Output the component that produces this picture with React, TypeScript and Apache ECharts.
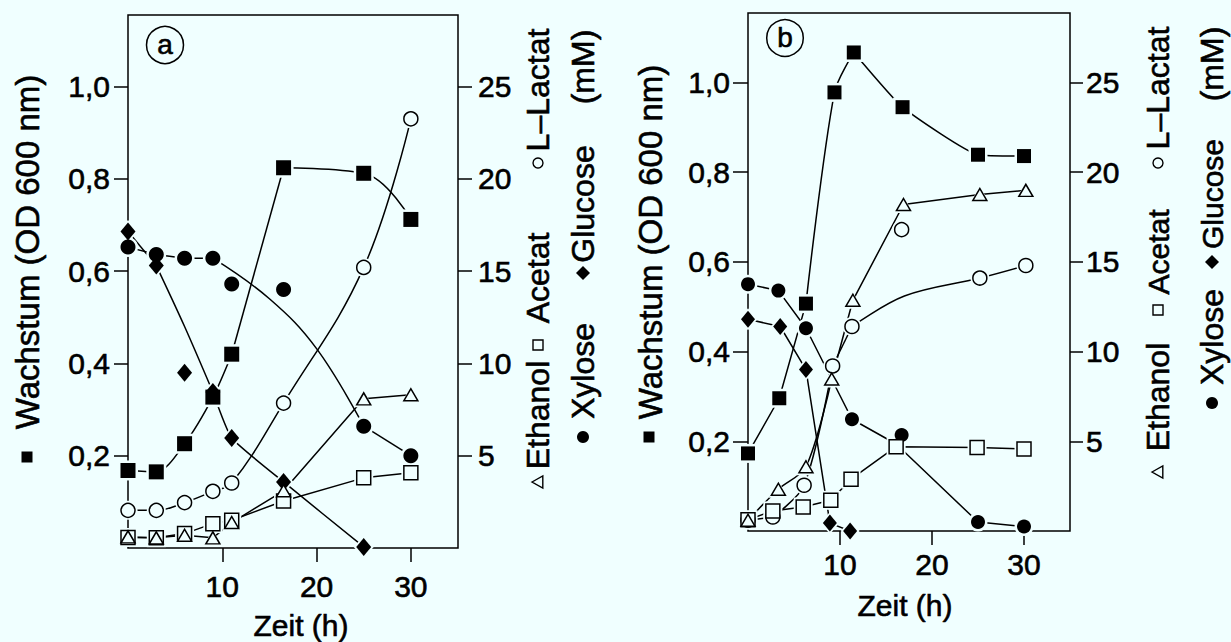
import React, { useEffect, useRef } from 'react';
import * as echarts from 'echarts';

const BG = '#F0FFFF';
const INK = '#000000';
const FONT = '"Liberation Sans", Arial, Helvetica, sans-serif';
const EMBOLDEN = 0.6;

// ---------- axis ticks ----------
const timeTicks = [10, 20, 30];
const odTicks = [0.2, 0.4, 0.6, 0.8, 1.0];
const mMTicks = [5, 10, 15, 20, 25];
const OD_MAX = 1.155;
const MM_PER_OD = 25;
const TIME_MAX = 35;

// ---------- panel a (markers) ----------
const timeA = [0, 3, 6, 9, 11, 16.5, 25, 30];
const growthA = [0.168, 0.165, 0.226, 0.327, 0.42, 0.824, 0.812, 0.712];
const xyloseA = [16.3, 15.9, 15.7, 15.7, 14.3, 14.0, 6.6, 5.0];
const glucoseTimeA = [0, 3, 6, 9, 11, 16.5, 25];
const glucoseA = [17.15, 15.3, 9.5, 8.45, 5.96, 3.58, 0.06];
const lactateA = [2.04, 2.04, 2.46, 3.07, 3.52, 7.85, 15.2, 23.25];
const acetateA = [0.57, 0.56, 0.78, 1.32, 1.5, 2.55, 3.8, 4.08];
const ethanolA = [0.6, 0.55, 0.69, 0.55, 1.38, 3.1, 8.08, 8.3];

// panel a: drawn fit curves
const xyloseCurveTimeA = [0, 3, 6, 9, 15, 20, 25, 30];
const xyloseCurveA = [16.3, 15.9, 15.7, 15.7, 13.5, 10.8, 6.6, 5.0];
const glucoseCurveTimeA = [0, 3, 6, 9, 11, 16.5, 25];
const glucoseCurveA = [17.15, 15.3, 12.0, 8.45, 5.96, 3.58, 0.06];

// ---------- panel b (markers) ----------
const growthTimeB = [0, 3.4, 6.3, 9.4, 11.5, 16.8, 25, 30];
const growthB = [0.173, 0.296, 0.507, 0.978, 1.067, 0.945, 0.839, 0.836];
const xyloseTimeB = [0, 3.3, 6.3, 11.3, 16.7, 25, 30];
const xyloseB = [13.76, 13.4, 11.3, 6.23, 5.35, 0.5, 0.25];
const glucoseTimeB = [0, 3.5, 6.3, 8.9, 11.1];
const glucoseB = [11.8, 11.4, 9.0, 0.44, 0];
const lactateTimeB = [0, 2.7, 6.1, 9.2, 11.3, 16.7, 25.2, 30.2];
const lactateB = [0.6, 0.78, 2.55, 9.2, 11.4, 16.8, 14.1, 14.8];
const acetateTimeB = [0, 2.7, 6.0, 9.0, 11.2, 16.1, 24.9, 30];
const acetateB = [0.63, 1.12, 1.34, 1.71, 2.89, 4.7, 4.65, 4.57];
const ethanolTimeB = [0, 3.3, 6.3, 9.1, 11.4, 16.9, 25.2, 30.2];
const ethanolB = [0.6, 2.33, 3.58, 8.47, 12.86, 18.2, 18.76, 18.99];

// panel b: drawn curves
const xyloseCurveTimeB = [0, 3.3, 6.3, 11.3, 16.1, 25, 30];
const xyloseCurveB = [13.76, 13.4, 11.3, 6.23, 4.85, 0.5, 0.25];
const lactateCurveTimeB = [0, 2.7, 6.1, 9.2, 11.3, 17, 25.2, 30.2];
const lactateCurveB = [0.6, 0.78, 2.55, 9.2, 11.4, 13.1, 14.1, 14.8];

type Seg = [number, number, number | boolean];
type Spec = {
  xs: number[];
  ys: number[];
  lineXs?: number[];
  lineYs?: number[];
  symbol: string;
  size: number | number[];
  filled: boolean;
  smooth: number | boolean;
  segs?: Seg[]; // [startIndex, endIndex, smooth] pieces of the drawn line (corners between)
};

const pairs = (xs: number[], ys: number[]) => xs.map((x, i) => [x, ys[i]]);

function makeSeries(panel: number, yIdx: number, s: Spec) {
  const xAxisIndex = panel;
  const yAxisIndex = panel * 2 + yIdx;
  const pts = pairs(s.xs, s.ys);
  const line = pairs(s.lineXs ?? s.xs, s.lineYs ?? s.ys);
  const segs: Seg[] = s.segs ?? [[0, line.length - 1, s.smooth]];
  const halo = Array.isArray(s.size) ? s.size.map((v) => v + 5) : s.size + 5;
  const lines = segs.map(([a, b, sm]) => ({
    type: 'line', xAxisIndex, yAxisIndex, data: line.slice(a, b + 1), smooth: sm,
    showSymbol: false, symbol: 'none', lineStyle: { color: INK, width: 1.5, opacity: 1 },
    z: 2, silent: true, clip: false,
  }));
  return [
    ...lines,
    {
      type: 'scatter', xAxisIndex, yAxisIndex, data: pts, symbol: s.symbol,
      symbolSize: halo, itemStyle: { color: BG, opacity: 1 }, z: 3, silent: true, clip: false,
    },
    {
      type: 'scatter', xAxisIndex, yAxisIndex, data: pts, symbol: s.symbol,
      symbolSize: s.size,
      itemStyle: s.filled
        ? { color: INK, opacity: 1 }
        : { color: BG, borderColor: INK, borderWidth: 1.5, opacity: 1 },
      z: 4, silent: true, clip: false,
    },
  ];
}

const labelStyle = {
  fontSize: 30, color: INK, fontFamily: FONT,
  textBorderColor: INK, textBorderWidth: EMBOLDEN,
};

function xAxisCfg(gridIndex: number, margin: number) {
  return {
    type: 'value', gridIndex, min: 0, max: TIME_MAX,
    axisLine: { show: false },
    axisTick: { show: true, inside: false, length: 14, customValues: timeTicks, lineStyle: { color: INK, width: 1.5 } },
    axisLabel: { show: true, customValues: timeTicks, margin, ...labelStyle },
    splitLine: { show: false },
  };
}

function yAxisCfg(gridIndex: number, right: boolean, margin: number, tickLen: number) {
  return {
    type: 'value', gridIndex, position: right ? 'right' : 'left', min: 0,
    max: right ? OD_MAX * MM_PER_OD : OD_MAX,
    axisLine: { show: false },
    axisTick: { show: true, inside: false, length: tickLen, customValues: right ? mMTicks : odTicks, lineStyle: { color: INK, width: 1.5 } },
    axisLabel: {
      show: true, customValues: right ? mMTicks : odTicks, margin, ...labelStyle,
      formatter: (v: number) => (right ? String(v) : v.toFixed(1).replace('.', ',')),
    },
    splitLine: { show: false },
  };
}

function textEl(text: string, x: number, y: number, size: number, rotate: boolean) {
  return {
    type: 'text', x, y, rotation: rotate ? Math.PI / 2 : 0, silent: true,
    style: {
      text, fill: INK, fontSize: size, fontFamily: FONT,
      stroke: INK, lineWidth: EMBOLDEN,
      align: 'center', verticalAlign: 'middle', textAlign: 'center', textVerticalAlign: 'middle',
    },
  };
}
const vText = (t: string, x: number, y: number, size = 32) => textEl(t, x, y, size, true);
const hText = (t: string, x: number, y: number, size = 32) => textEl(t, x, y, size, false);

const filledSquare = (cx: number, cy: number, s = 11) => ({ type: 'rect', silent: true, shape: { x: cx - s / 2, y: cy - s / 2, width: s, height: s }, style: { fill: INK } });
const openSquare = (cx: number, cy: number, s = 10) => ({ type: 'rect', silent: true, shape: { x: cx - s / 2, y: cy - s / 2, width: s, height: s }, style: { fill: 'none', stroke: INK, lineWidth: 1.4 } });
const openCircle = (cx: number, cy: number, r = 5) => ({ type: 'circle', silent: true, shape: { cx, cy, r }, style: { fill: 'none', stroke: INK, lineWidth: 1.4 } });
const filledCircle = (cx: number, cy: number, r = 6) => ({ type: 'circle', silent: true, shape: { cx, cy, r }, style: { fill: INK } });
const openTriLeft = (cx: number, cy: number, s = 6) => ({ type: 'polygon', silent: true, shape: { points: [[cx - s, cy], [cx + s * 0.8, cy - s], [cx + s * 0.8, cy + s]] }, style: { fill: 'none', stroke: INK, lineWidth: 1.4 } });
const filledDiamond = (cx: number, cy: number, s = 7) => ({ type: 'polygon', silent: true, shape: { points: [[cx, cy - s], [cx + s, cy], [cx, cy + s], [cx - s, cy]] }, style: { fill: INK } });

function buildOption() {
  const series = [
    // panel a
    ...makeSeries(0, 0, { xs: timeA, ys: growthA, symbol: 'rect', size: 15, filled: true, smooth: 0.3, segs: [[0, 4, 0.3], [4, 5, false], [5, 7, 0.4]] }),
    ...makeSeries(0, 1, { xs: timeA, ys: xyloseA, lineXs: xyloseCurveTimeA, lineYs: xyloseCurveA, symbol: 'circle', size: 15, filled: true, smooth: 0.35, segs: [[0, 3, false], [3, 6, 0.4], [6, 7, false]] }),
    ...makeSeries(0, 1, { xs: glucoseTimeA, ys: glucoseA, lineXs: glucoseCurveTimeA, lineYs: glucoseCurveA, symbol: 'diamond', size: [15, 18], filled: true, smooth: 0.2, segs: [[0, 1, false], [1, 3, 0.3], [3, 6, 0.15]] }),
    ...makeSeries(0, 1, { xs: timeA, ys: lactateA, symbol: 'circle', size: 14, filled: false, smooth: 0.4 }),
    ...makeSeries(0, 1, { xs: timeA, ys: acetateA, symbol: 'rect', size: 14, filled: false, smooth: false }),
    ...makeSeries(0, 1, { xs: timeA, ys: ethanolA, symbol: 'triangle', size: [14, 12], filled: false, smooth: false }),
    // panel b
    ...makeSeries(1, 0, { xs: growthTimeB, ys: growthB, symbol: 'rect', size: 14, filled: true, smooth: 0.2, segs: [[0, 2, false], [2, 4, 0.3], [4, 7, 0.15]] }),
    ...makeSeries(1, 1, { xs: xyloseTimeB, ys: xyloseB, lineXs: xyloseCurveTimeB, lineYs: xyloseCurveB, symbol: 'circle', size: 14, filled: true, smooth: false }),
    ...makeSeries(1, 1, { xs: glucoseTimeB, ys: glucoseB, symbol: 'diamond', size: [14, 17], filled: true, smooth: false }),
    ...makeSeries(1, 1, { xs: lactateTimeB, ys: lactateB, lineXs: lactateCurveTimeB, lineYs: lactateCurveB, symbol: 'circle', size: 14, filled: false, smooth: 0.3, segs: [[0, 1, false], [1, 3, 0.3], [3, 4, false], [4, 7, 0.35]] }),
    ...makeSeries(1, 1, { xs: acetateTimeB, ys: acetateB, symbol: 'rect', size: 14, filled: false, smooth: false }),
    ...makeSeries(1, 1, { xs: ethanolTimeB, ys: ethanolB, symbol: 'triangle', size: [14, 12], filled: false, smooth: 0.2, segs: [[0, 3, 0.3], [3, 5, false], [5, 7, false]] }),
  ];

  const graphic = [
    // circled panel letters
    { type: 'circle', silent: true, shape: { cx: 165, cy: 45, r: 18.5 }, style: { fill: 'none', stroke: INK, lineWidth: 1.5 } },
    hText('a', 165, 44, 28),
    { type: 'circle', silent: true, shape: { cx: 785, cy: 38, r: 18.3 }, style: { fill: 'none', stroke: INK, lineWidth: 1.5 } },
    hText('b', 785, 37, 28),
    // panel a labels
    filledSquare(27, 457),
    vText('Wachstum (OD 600 nm)', 27, 252, 33),
    openTriLeft(538, 482),
    vText('Ethanol', 538, 415),
    openSquare(538, 345),
    vText('Acetat', 538, 278),
    openCircle(538, 163),
    vText('L–Lactat', 538, 90),
    filledCircle(583, 437),
    vText('Xylose', 583, 371),
    filledDiamond(583, 273),
    vText('Glucose', 583, 204),
    vText('(mM)', 583, 67),
    hText('Zeit (h)', 301, 625, 30),
    // panel b labels
    filledSquare(649, 437),
    vText('Wachstum (OD 600 nm)', 650, 242, 33),
    openTriLeft(1158, 472),
    vText('Ethanol', 1158, 397),
    openSquare(1158, 310),
    vText('Acetat', 1158, 252, 30),
    openCircle(1158, 163),
    vText('L–Lactat', 1158, 88),
    filledCircle(1212, 403),
    vText('Xylose', 1212, 337),
    filledDiamond(1212, 262),
    vText('Glucose', 1212, 194, 30),
    vText('(mM)', 1212, 64),
    hText('Zeit (h)', 905, 605, 30),
  ];

  return {
    animation: false,
    backgroundColor: BG,
    textStyle: { fontFamily: FONT },
    grid: [
      { left: 128, top: 15, width: 330, height: 533, show: true, borderColor: INK, borderWidth: 1.5, backgroundColor: 'transparent' },
      { left: 748, top: 13, width: 322, height: 518, show: true, borderColor: INK, borderWidth: 1.5, backgroundColor: 'transparent' },
    ],
    xAxis: [xAxisCfg(0, 23), xAxisCfg(1, 18)],
    yAxis: [yAxisCfg(0, false, 18, 14), yAxisCfg(0, true, 20, 14), yAxisCfg(1, false, 18, 15), yAxisCfg(1, true, 16, 13)],
    series,
    graphic,
  };
}

export default function App() {
  const ref = useRef<HTMLDivElement>(null);
  useEffect(() => {
    if (!ref.current) return;
    const chart = echarts.init(ref.current, null, { renderer: 'svg' });
    chart.setOption(buildOption() as any);
    return () => chart.dispose();
  }, []);
  return (
    <div
      ref={ref}
      style={{ position: 'fixed', left: 0, top: 0, width: 1231, height: 642, background: BG }}
    />
  );
}
